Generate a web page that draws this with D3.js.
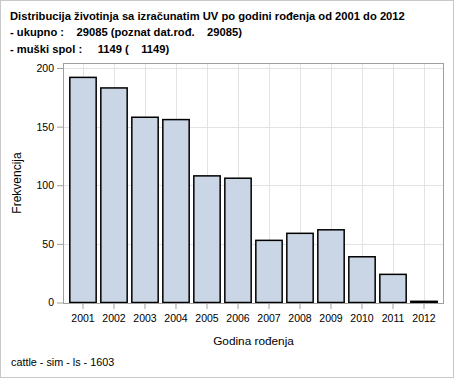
<!DOCTYPE html>
<html>
<head>
<meta charset="utf-8">
<script src="https://cdn.jsdelivr.net/npm/d3@7"></script>
<style>
  body { margin: 0; background: #fff; }
  text { font-family: "Liberation Sans", Arial, sans-serif; }
</style>
</head>
<body>
<div id="chart"></div>
<script>
// data
const years = ["2001", "2002", "2003", "2004", "2005", "2006", "2007", "2008", "2009", "2010", "2011", "2012"];
const counts = [192, 183, 158, 156, 108, 106, 53, 59, 62, 39, 24, 1];
const yTicks = [0, 50, 100, 150, 200];
const titleLines = [
  "Distribucija životinja sa izračunatim UV po godini rođenja od 2001 do 2012",
  "- ukupno :    29085 (poznat dat.rođ.    29085)",
  "- muški spol :     1149 (    1149)"
];

const W = 454, H = 378;
const margin = {top: 63, right: 10, bottom: 75, left: 63};
const width = W - margin.left - margin.right,
    height = H - margin.top - margin.bottom;

const svg = d3.select("#chart")
  .append("svg")
    .attr("width", W)
    .attr("height", H);

// outer border
svg.append("rect")
  .attr("x", 0.5).attr("y", 0.5)
  .attr("width", W - 1).attr("height", H - 1)
  .attr("fill", "#fff")
  .attr("stroke", "#c8c8c8");

// title
svg.append("g").selectAll("text")
  .data(titleLines)
  .join("text")
    .attr("class", "title")
    .attr("x", 10)
    .attr("y", (d, i) => 19.5 + i * 16.5)
    .attr("xml:space", "preserve")
    .style("white-space", "pre")
    .attr("font-size", 11.2)
    .attr("font-weight", "bold")
    .text(d => d);

// squeeze the first line to the width seen in the picture
const t0 = svg.select("text.title").node();
if (t0.getComputedTextLength() > 397) {
  d3.select(t0).attr("textLength", 397).attr("lengthAdjust", "spacingAndGlyphs");
}

const g = svg.append("g")
  .attr("transform", `translate(${margin.left}, ${margin.top})`);

const x = d3.scaleBand()
  .domain(years)
  .range([0, width])
  .paddingInner(0.15)
  .paddingOuter(0.22);

const y = d3.scaleLinear()
  .domain([0, 200])
  .range([height - 0.5, 5]);

// grid
g.append("g").selectAll("line.h")
  .data(yTicks.filter(d => d > 0))
  .join("line")
    .attr("x1", 0).attr("x2", width)
    .attr("y1", d => Math.round(y(d)) + 0.5)
    .attr("y2", d => Math.round(y(d)) + 0.5)
    .attr("stroke", "#e3e3e3");
g.append("g").selectAll("line.v")
  .data(years)
  .join("line")
    .attr("x1", d => Math.round(x(d) + x.bandwidth() / 2) + 0.5)
    .attr("x2", d => Math.round(x(d) + x.bandwidth() / 2) + 0.5)
    .attr("y1", 0).attr("y2", height)
    .attr("stroke", "#e3e3e3");

// bars
g.selectAll("rect.bar")
  .data(years)
  .join("rect")
    .attr("class", "bar")
    .attr("x", d => x(d))
    .attr("y", (d, i) => y(counts[i]))
    .attr("width", x.bandwidth())
    .attr("height", (d, i) => y(0) - y(counts[i]))
    .attr("fill", "#cad5e5")
    .attr("stroke", "#000")
    .attr("stroke-width", 1.5);

// frame
g.append("rect")
  .attr("x", 0.5).attr("y", 0.5)
  .attr("width", width - 1).attr("height", height)
  .attr("fill", "none")
  .attr("stroke", "#a0a0a0");

// axes
const yAxis = g.append("g")
  .call(d3.axisLeft(y).tickValues(yTicks).tickSize(6).tickPadding(3));
const xAxis = g.append("g")
  .attr("transform", `translate(0, ${height})`)
  .call(d3.axisBottom(x).tickSize(6).tickPadding(6));
[yAxis, xAxis].forEach(a => {
  a.select(".domain").remove();
  a.selectAll(".tick line").attr("stroke", "#a0a0a0");
  a.selectAll("text")
    .attr("font-size", 10.5)
    .attr("font-family", "Liberation Sans, Arial, sans-serif")
    .attr("fill", "#000");
});

// axis titles
svg.append("text")
  .attr("x", margin.left + width / 2)
  .attr("y", 345)
  .attr("text-anchor", "middle")
  .attr("font-size", 11.8)
  .text("Godina rođenja");
svg.append("text")
  .attr("transform", `translate(21, ${margin.top + height / 2}) rotate(-90)`)
  .attr("text-anchor", "middle")
  .attr("font-size", 12)
  .text("Frekvencija");

// footnote
svg.append("text")
  .attr("x", 11)
  .attr("y", 366)
  .attr("font-size", 10.8)
  .text("cattle - sim - ls - 1603");
</script>
</body>
</html>
